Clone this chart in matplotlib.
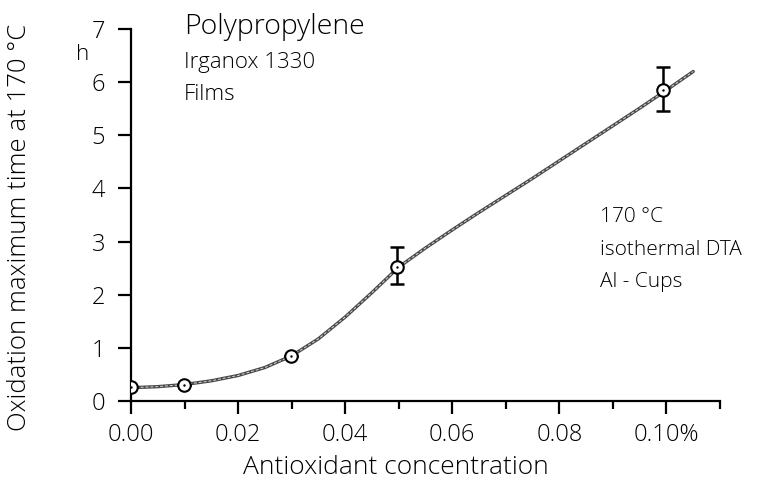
import numpy as np
import matplotlib.pyplot as plt

plt.rcParams['font.family'] = ['Open Sans', 'DejaVu Sans']
plt.rcParams['font.weight'] = 'light'
plt.rcParams['axes.labelweight'] = 'light'

# measured points (concentration in %, time in h)
conc = [0.0, 0.0099, 0.0298, 0.0497, 0.0994]
time_h = [0.27, 0.31, 0.85, 2.53, 5.86]
err_lo = [0.0, 0.0, 0.0, 0.33, 0.41]
err_hi = [0.0, 0.0, 0.0, 0.36, 0.42]

# hand drawn trend line through the points
curve_x = [0.0, 0.005, 0.01, 0.015, 0.02, 0.025, 0.03, 0.035, 0.04, 0.045,
           0.05, 0.055, 0.06, 0.065, 0.07, 0.075, 0.08, 0.085, 0.09, 0.095,
           0.1, 0.105]
curve_y = [0.25, 0.27, 0.31, 0.38, 0.48, 0.63, 0.85, 1.17, 1.58, 2.04,
           2.52, 2.88, 3.22, 3.55, 3.87, 4.19, 4.52, 4.85, 5.18, 5.51,
           5.85, 6.2]

xticks = [0.0, 0.02, 0.04, 0.06, 0.08, 0.10]
xlabels = ['0.00', '0.02', '0.04', '0.06', '0.08', '0.10%']

fig = plt.figure(figsize=(7.59, 4.82), dpi=100)
ax = fig.add_axes([131/759, 1-401/482, (720-131)/759, (401-29)/482])

ax.plot(curve_x, curve_y, color='#4a4a4a', lw=2.4, solid_capstyle='round', zorder=2)
ax.plot(curve_x, curve_y, color='#d8d8d8', lw=0.7, ls=(0, (3, 2)), zorder=3)

ax.errorbar(conc, time_h, yerr=[err_lo, err_hi], fmt='none', ecolor='black',
            elinewidth=1.8, capsize=4.8, capthick=1.8, zorder=4)
ax.plot(conc, time_h, 'o', ms=9, mfc='white', mec='black', mew=1.5, zorder=5)
ax.plot(conc, time_h, '.', ms=1.5, color='black', zorder=6)

ax.set_xlim(0, 0.11)
ax.set_ylim(0, 7)
ax.set_xticks(xticks)
ax.set_xticklabels(xlabels)
ax.set_xticks(np.arange(0.01, 0.111, 0.02), minor=True)
ax.set_yticks(range(8))

for s in ['top', 'right']:
    ax.spines[s].set_visible(False)
for s in ['left', 'bottom']:
    ax.spines[s].set_linewidth(1.6)
ax.spines['left'].set_bounds(0, 7)

ax.tick_params(axis='both', which='major', direction='out', length=9.5,
               width=1.6, labelsize=17, color='black')
ax.tick_params(axis='y', which='major', pad=9)
ax.tick_params(axis='x', which='major', pad=6)
ax.tick_params(axis='x', which='minor', direction='out', length=6, width=1.6)

ax.set_xlabel('Antioxidant concentration', fontsize=19, fontweight='light')
ax.set_ylabel('Oxidation maximum time at 170 °C', fontsize=18.5, fontweight='light')
ax.xaxis.set_label_coords(0.45, -0.146)
ax.yaxis.set_label_coords(-0.168, 0.468)

fig.text(83/759, 1-55/482, 'h', fontsize=16, ha='center', va='center')

ax.text(0.09, 1.005, 'Polypropylene', transform=ax.transAxes, fontsize=20.5,
        ha='left', va='center')
ax.text(0.09, 0.911, 'Irganox 1330', transform=ax.transAxes, fontsize=16,
        ha='left', va='center')
ax.text(0.09, 0.825, 'Films', transform=ax.transAxes, fontsize=16,
        ha='left', va='center')

ax.text(0.796, 0.495, '170 °C', transform=ax.transAxes, fontsize=15,
        ha='left', va='center')
ax.text(0.796, 0.406, 'isothermal DTA', transform=ax.transAxes, fontsize=15,
        ha='left', va='center')
ax.text(0.796, 0.32, 'Al - Cups', transform=ax.transAxes, fontsize=15,
        ha='left', va='center')

fig.savefig('out.png', dpi=100)
